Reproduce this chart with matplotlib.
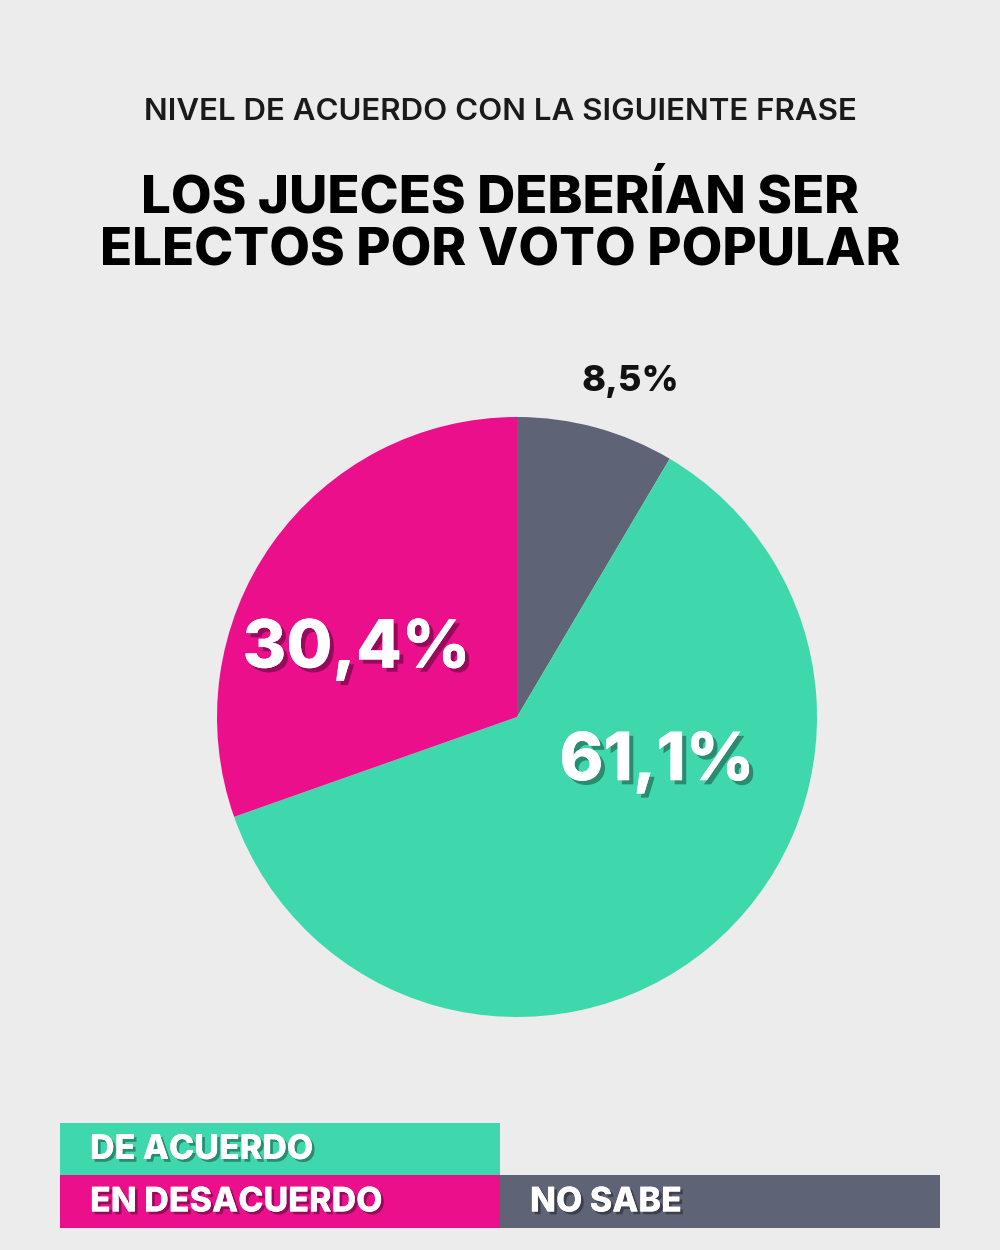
import matplotlib
matplotlib.use("Agg")
import matplotlib.pyplot as plt
import matplotlib.patheffects as pe
from matplotlib.patches import Rectangle
import numpy as np

# ---- data ----
categories = ["NO SABE", "DE ACUERDO", "EN DESACUERDO"]
values = [8.5, 61.1, 30.4]
labels = ["8,5%", "61,1%", "30,4%"]
colors = ["#5f6376", "#3fd8ad", "#ec0f8c"]
subtitle = "NIVEL DE ACUERDO CON LA SIGUIENTE FRASE"
title = "LOS JUECES DEBERÍAN SER\nELECTOS POR VOTO POPULAR"

FONT = ["Inter", "DejaVu Sans"]
W, H = 1000, 1250
fig = plt.figure(figsize=(W / 100, H / 100), dpi=100)
fig.patch.set_facecolor("#ececec")

# overlay axes in pixel coordinates (y from top)
bg = fig.add_axes([0, 0, 1, 1])
bg.set_xlim(0, W)
bg.set_ylim(H, 0)
bg.axis("off")

bg.text(500, 112, subtitle, ha="center", va="center", fontsize=22.5,
        fontweight="semibold", color="#1a1a1a", family=FONT)
bg.text(500, 225, title, ha="center", va="center", fontsize=38,
        fontweight="heavy", color="#000000", family=FONT, linespacing=1.1)

# ---- pie ----
cx, cy, R = 517, 717, 300
pax = fig.add_axes([(cx - R) / W, (H - cy - R) / H, 2 * R / W, 2 * R / H])
wedges, _ = pax.pie(values, colors=colors, startangle=90, counterclock=False,
                    radius=1.0, wedgeprops=dict(linewidth=0))
pax.set_xlim(-1, 1)
pax.set_ylim(-1, 1)
pax.set_aspect("equal")
pax.axis("off")

shadow = [pe.withSimplePatchShadow(offset=(3, -3), shadow_rgbFace="#000000", alpha=0.35), pe.Normal()]

# label placement: (radius fraction, clockwise angle from top in degrees)
label_pos = [(1.18, 18.7), (0.49, 108.0), (0.58, 292.7)]
label_style = [
    dict(fontsize=26, color="#111111", fontweight="heavy"),
    dict(fontsize=48, color="white", fontweight="heavy", path_effects=shadow),
    dict(fontsize=48, color="white", fontweight="heavy", path_effects=shadow),
]
for lab, (r, ang), st in zip(labels, label_pos, label_style):
    a = np.deg2rad(ang)
    pax.text(r * np.sin(a), r * np.cos(a), lab, ha="center", va="center",
             family=FONT, clip_on=False, **st)

# ---- legend blocks ----
legend_boxes = {
    "DE ACUERDO": (60, 1123, 440, 52),
    "EN DESACUERDO": (60, 1175, 440, 53),
    "NO SABE": (500, 1175, 440, 53),
}
cmap = dict(zip(categories, colors))
lshadow = [pe.withSimplePatchShadow(offset=(2, -2), shadow_rgbFace="#000000", alpha=0.35), pe.Normal()]
for name in ["DE ACUERDO", "EN DESACUERDO", "NO SABE"]:
    x, y, w, h = legend_boxes[name]
    bg.add_patch(Rectangle((x, y), w, h, facecolor=cmap[name], edgecolor="none"))
    bg.text(x + 30, y + h / 2 + 1, name, ha="left", va="center", fontsize=24.5,
            fontweight="heavy", color="white", family=FONT, path_effects=lshadow)

fig.savefig("out.png", dpi=100, facecolor=fig.get_facecolor())
